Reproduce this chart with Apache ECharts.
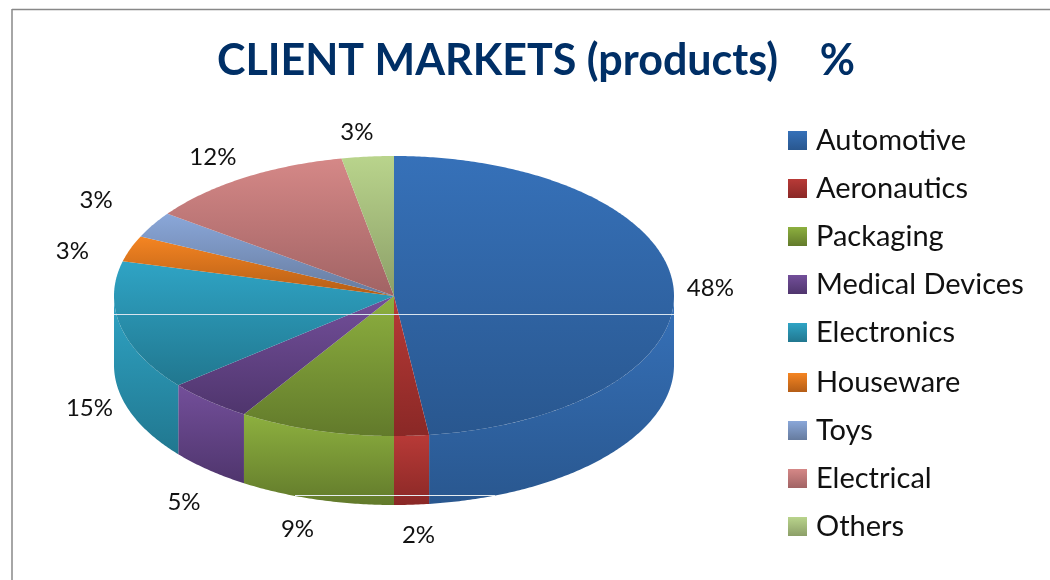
<!DOCTYPE html>
<html>
<head>
<meta charset="utf-8">
<style>html,body{margin:0;padding:0;background:#fff}#c{width:1050px;height:580px}</style>
<script src="https://cdn.jsdelivr.net/npm/echarts@6/dist/echarts.min.js"></script>
</head>
<body>
<div id="c"></div>
<script>
const categories = ['Automotive','Aeronautics','Packaging','Medical Devices','Electronics','Houseware','Toys','Electrical','Others'];
const shares = [48,2,9,5,15,3,3,12,3];
const topColors = ['#3671b9','#b83a37','#8db03f','#734f9a','#2fa4c5','#f58522','#8aa7d9','#d58887','#b9d48c'];
const bottomColors = ['#29578f','#8a2826','#627a2b','#4f356d','#21778f','#b45d16','#667b9e','#a16364','#8c9f68'];
const labelNudges = [[7,3],[5,1],[-10,1],[-5,10],[-2,6],[-30,13],[-31,-9],[-15,5],[-8,6]];

const cx = 394, cy = 296, rx = 280, ry = 140, depth = 69;
const total = shares.reduce((a, b) => a + b, 0);
const grad = i => ({type:'linear',x:0,y:0,x2:0,y2:1,colorStops:[{offset:0,color:topColors[i]},{offset:1,color:bottomColors[i]}]});
const px = t => cx + rx * Math.sin(t);
const py = t => cy - ry * Math.cos(t);

function arcPoints(a, b, dy) {
  const pts = [], n = Math.max(2, Math.ceil((b - a) / 0.01));
  for (let k = 0; k <= n; k++) {
    const t = a + (b - a) * k / n;
    pts.push([px(t), py(t) + dy]);
  }
  return pts;
}

function sliceRender(i) {
  return function (params, api) {
    const before = shares.slice(0, i).reduce((a, b) => a + b, 0);
    const value = api.value(0);
    const a = before / total * 2 * Math.PI;
    const b = (before + value) / total * 2 * Math.PI;
    const children = [];
    const wa = Math.max(a, Math.PI / 2), wb = Math.min(b, Math.PI * 1.5);
    if (wb > wa) {
      const upper = arcPoints(wa, wb, 0);
      const lower = arcPoints(wa, wb, depth).reverse();
      children.push({type:'polygon', shape:{points:upper.concat(lower)}, style:{fill:grad(i)}});
    }
    children.push({type:'polygon', shape:{points:[[cx,cy]].concat(arcPoints(a,b,0))}, style:{fill:grad(i)}});
    const mid = (a + b) / 2;
    const front = Math.cos(mid) < 0 ? depth : 0;
    children.push({
      type:'text',
      style:{
        text: value + '%',
        x: cx + (rx + 30) * Math.sin(mid) + labelNudges[i][0],
        y: cy - (ry + 30) * Math.cos(mid) + front + labelNudges[i][1],
        fill:'#111', align:'center', verticalAlign:'middle',
        font:'24px Lato'
      }
    });
    return {type:'group', children};
  };
}

const chart = echarts.init(document.getElementById('c'), null, {renderer:'canvas'});
const legendBase = {
  orient:'vertical', left:783, icon:'rect', itemWidth:19, itemHeight:19, itemGap:7, itemStyle:{borderWidth:0},
  selectedMode:false,
  textStyle:{fontFamily:'Lato', fontSize:29, color:'#111', lineHeight:34, padding:[7,0,0,4]}
};
chart.setOption({
  animation:false,
  backgroundColor:'#fff',
  title:{
    text:'CLIENT MARKETS (products)    %',
    left:531, top:35, textAlign:'center',
    textStyle:{fontFamily:'Lato', fontWeight:'bold', fontSize:43, color:'#002f66'}
  },
  legend:[
    Object.assign({}, legendBase, {top:115, data:categories.slice(0,5)}),
    Object.assign({}, legendBase, {top:357, data:categories.slice(5)})
  ],
  graphic:[
    {type:'line', silent:true, shape:{x1:12,y1:9.5,x2:1050,y2:9.5}, style:{stroke:'#888',lineWidth:1.5}},
    {type:'line', silent:true, shape:{x1:12,y1:9,x2:12,y2:580}, style:{stroke:'#888',lineWidth:1.5}},
    {type:'line', silent:true, z:10, shape:{x1:114,y1:314.5,x2:674,y2:314.5}, style:{stroke:'#d8e4ee',lineWidth:1}},
    {type:'line', silent:true, z:10, shape:{x1:295,y1:495.5,x2:495,y2:495.5}, style:{stroke:'#e6ecf0',lineWidth:1}}
  ],
  series: categories.map((name, i) => ({
    type:'custom', name, coordinateSystem:'none', silent:true,
    itemStyle:{color:grad(i)},
    renderItem: sliceRender(i),
    data:[shares[i]]
  }))
});
</script>
</body>
</html>
